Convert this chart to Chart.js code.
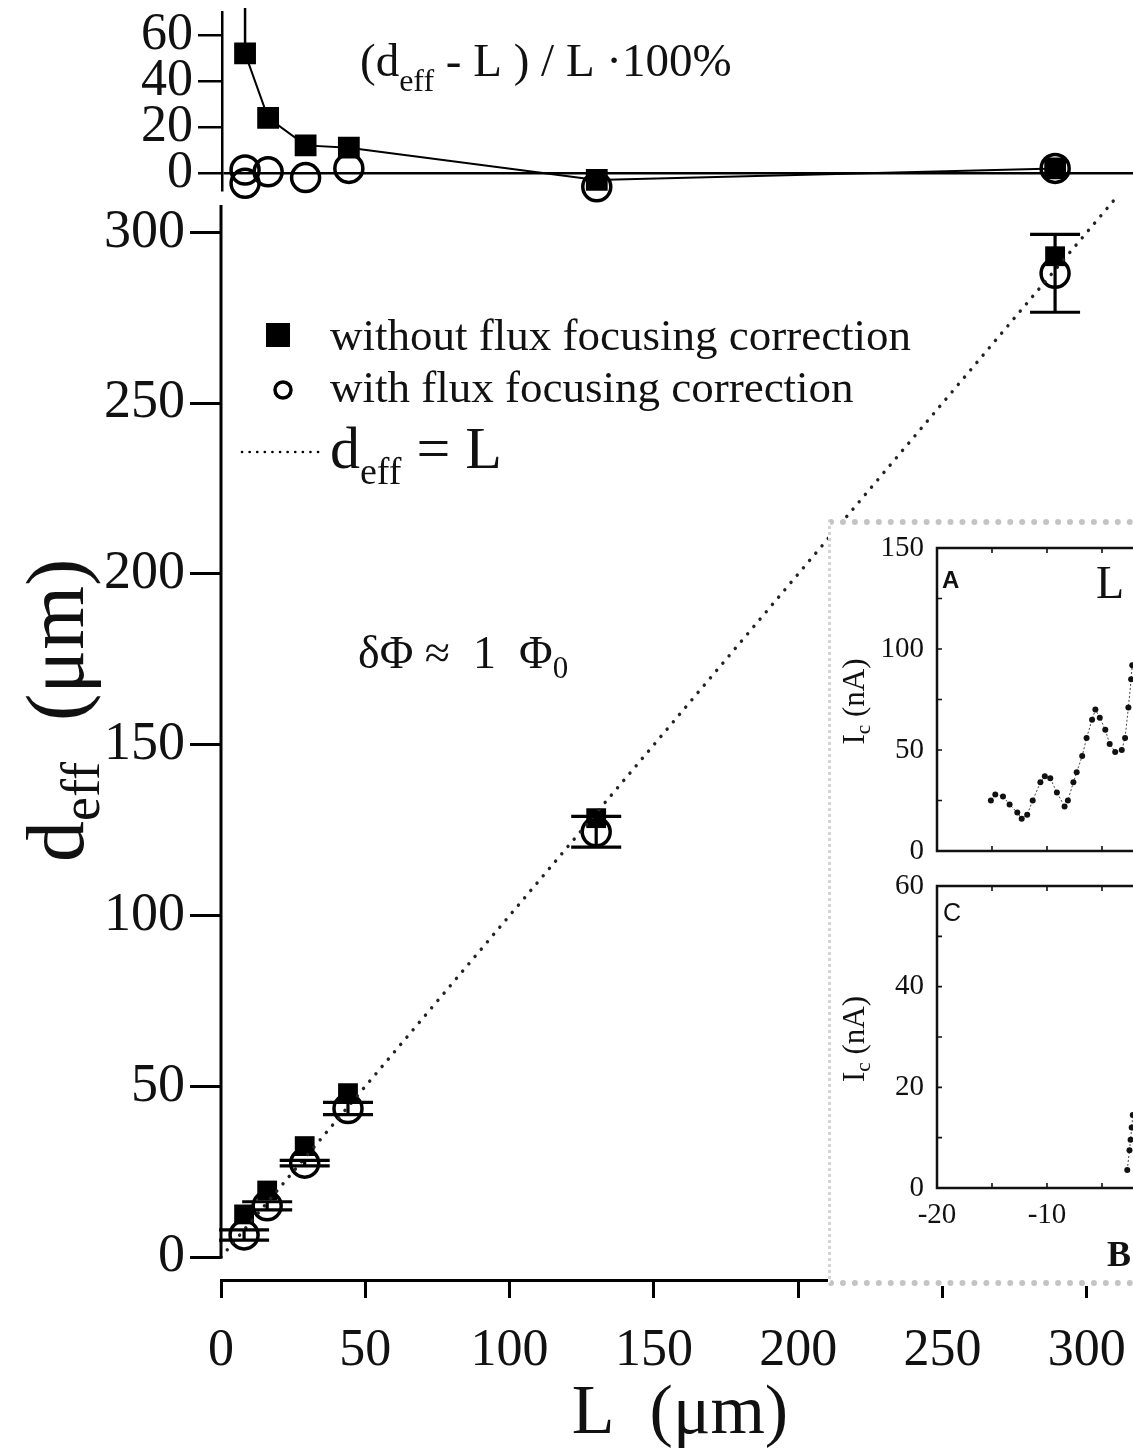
<!DOCTYPE html>
<html>
<head>
<meta charset="utf-8">
<script src="https://cdn.jsdelivr.net/npm/chart.js@4.4.0/dist/chart.umd.min.js"></script>
<style>
  body { margin: 0; background: #fff; width: 1133px; height: 1451px; overflow: hidden; position: relative; }
  canvas { position: absolute; left: 0; top: 0; }
  #insetBg {
    position: absolute; left: 828px; top: 519px; width: 305px; height: 767px;
    background: #fff; box-sizing: border-box;
    border-top: 6px dotted #c4c4c4; border-left: 3px dotted #d4d4d4; border-bottom: 6px dotted #c4c4c4;
  }
</style>
</head>
<body>
<canvas id="main" width="1133" height="1451"></canvas>
<canvas id="pct" width="1133" height="1451"></canvas>
<div id="insetBg"></div>
<canvas id="insetA" width="1133" height="1451"></canvas>
<canvas id="insetC" width="1133" height="1451"></canvas>
<script>
// main panel: d_eff vs L
const L = [8, 16, 29, 44, 130, 289];
const dNoCorr = [12.5, 19.5, 32.5, 48, 128.5, 293];
const dCorr = [6.5, 15, 27.5, 43.5, 124.5, 288];
const dErr = [1.5, 1.2, 0.8, 1.8, 4.5, 11.4];
const lineL = [0, 310];            // d_eff = L
const xTicks = [0, 50, 100, 150, 200, 250, 300];
const yTicks = [0, 50, 100, 150, 200, 250, 300];

// top panel: (d_eff - L) / L * 100%
const pctL = [8, 16, 29, 44, 130, 289];
const pctNoCorr = [52, 24, 12, 11, -3, 2];
const pctNoCorrErrUp = [30, 0, 0, 0, 0, 0];
const pctCorrL = [8, 8, 16, 29, 44, 130, 289];
const pctCorr = [1.3, -4.5, 0.5, -2, 2, -6, 2];
const pctTicks = [0, 20, 40, 60];

// inset A / C: Ic vs field
const fieldA = [-15.1, -14.7, -14.0, -13.4, -12.7, -12.3, -11.8, -11.3, -10.6, -10.2, -9.7, -9.1, -8.4, -8.1,
                -7.6, -7.3, -6.8, -6.4, -5.9, -5.6, -5.2, -4.7, -4.3, -3.8, -3.2, -2.9, -2.6, -2.35, -2.25];
const icA = [25, 28, 27, 23, 19, 16, 18, 25, 34, 37, 36, 29, 22, 25,
             34, 39, 47, 56, 65, 70, 66, 60, 53, 49, 50, 56, 71, 85, 92];
const fieldC = [-2.7, -2.5, -2.4, -2.3, -2.2];
const icC = [3.6, 7.5, 9.6, 12, 14.5];
const insetXTicks = [-20, -10];
const insetXMinor = [-15, -10, -5];
const icATicks = [0, 50, 100, 150];
const icAMinor = [25, 50, 75, 100, 125];
const icCTicks = [0, 20, 40, 60];
const icCMinor = [10, 20, 30, 40, 50];

const serif = '"Liberation Serif", "Times New Roman", serif';
const sans = '"Liberation Sans", Arial, sans-serif';
const ink = '#111';

function pts(xs, ys) { return xs.map((x, i) => ({ x, y: ys[i] })); }
function fixed(list) { return s => { s.ticks = list.map(v => ({ value: v })); }; }

// text with sub-parts: [text, size, dy, family, weight]
function rich(ctx, x, y, parts, align, rot) {
  ctx.save();
  ctx.translate(x, y);
  if (rot) ctx.rotate(rot);
  ctx.fillStyle = ink;
  ctx.textBaseline = 'alphabetic';
  ctx.textAlign = 'left';
  const font = p => `${p[4] || 'normal'} ${p[1]}px ${p[3] || serif}`;
  let w = 0;
  parts.forEach(p => { ctx.font = font(p); w += ctx.measureText(p[0]).width; });
  let cx = align === 'center' ? -w / 2 : 0;
  parts.forEach(p => {
    ctx.font = font(p);
    ctx.fillText(p[0], cx, p[2] || 0);
    cx += ctx.measureText(p[0]).width;
  });
  ctx.restore();
}

const errorBars = {
  id: 'errorBars',
  afterDatasetsDraw(chart) {
    const { ctx, chartArea: a, scales: { x, y } } = chart;
    ctx.save();
    ctx.strokeStyle = '#000';
    chart.data.datasets.forEach(ds => {
      if (!ds.errUp) return;
      ctx.lineWidth = ds.errWidth || 3;
      ds.data.forEach((p, i) => {
        const up = ds.errUp[i], dn = ds.errDown ? ds.errDown[i] : up;
        if (!up && !dn) return;
        const px = x.getPixelForValue(p.x);
        const y1 = Math.max(a.top - 4, y.getPixelForValue(p.y + up));
        const y2 = y.getPixelForValue(p.y - dn);
        const c = ds.capHalf || 0;
        ctx.beginPath();
        ctx.moveTo(px, y1); ctx.lineTo(px, y2);
        if (c) {
          ctx.moveTo(px - c, y1); ctx.lineTo(px + c, y1);
          ctx.moveTo(px - c, y2); ctx.lineTo(px + c, y2);
        }
        ctx.stroke();
      });
    });
    ctx.restore();
  }
};

const mainDecor = {
  id: 'mainDecor',
  afterDraw(chart) {
    const { ctx, chartArea: a, scales: { y } } = chart;
    // y axis line runs only from 0 up
    ctx.save();
    ctx.strokeStyle = '#000';
    ctx.lineWidth = 3;
    ctx.beginPath();
    ctx.moveTo(a.left, y.getPixelForValue(0) + 1.5);
    ctx.lineTo(a.left, a.top);
    ctx.stroke();

    // legend
    const H = Chart.helpers;
    ctx.fillStyle = '#000'; ctx.strokeStyle = '#000';
    H.drawPoint(ctx, { pointStyle: 'rect', radius: 17, borderWidth: 0 }, 278, 335);
    ctx.fillStyle = 'rgba(0,0,0,0)';
    ctx.lineWidth = 3.5;
    H.drawPoint(ctx, { pointStyle: 'circle', radius: 8, borderWidth: 3.5 }, 283, 390);
    ctx.beginPath();
    ctx.setLineDash([0.1, 7.5]);
    ctx.lineCap = 'round';
    ctx.lineWidth = 2.6;
    ctx.moveTo(242, 452); ctx.lineTo(322, 452);
    ctx.stroke();
    ctx.restore();

    rich(ctx, 330, 350, [['without flux focusing correction', 45]]);
    rich(ctx, 330, 402, [['with flux focusing correction', 45]]);
    rich(ctx, 330, 468, [['d', 60], ['eff', 38, 16], [' = L', 60]]);

    rich(ctx, 358, 668, [['δΦ ≈  1  Φ', 46], ['0', 31, 10]]);

    // axis titles
    rich(ctx, 680, 1433, [['L  (μm)', 70]], 'center');
    rich(ctx, 83, 862, [['d', 82], ['eff', 54, 16], ['  (μm)', 82]], 'left', -Math.PI / 2);
  }
};

new Chart(document.getElementById('main'), {
  type: 'scatter',
  data: {
    datasets: [
      {
        label: 'd_eff = L', data: pts(lineL, lineL), showLine: true, pointRadius: 0,
        borderColor: '#222', borderWidth: 3.4, borderDash: [0.1, 9.5], borderCapStyle: 'round', clip: false
      },
      {
        label: 'without flux focusing correction', data: pts(L, dNoCorr),
        pointStyle: 'rect', pointRadius: 14, backgroundColor: '#000', borderColor: '#000', borderWidth: 0, clip: false
      },
      {
        label: 'with flux focusing correction', data: pts(L, dCorr),
        pointStyle: 'circle', pointRadius: 14, backgroundColor: 'rgba(0,0,0,0)', borderColor: '#000', borderWidth: 3.5,
        errUp: dErr, errDown: dErr, capHalf: 25, errWidth: 3.2, clip: false
      }
    ]
  },
  options: {
    responsive: false, animation: false, devicePixelRatio: 1,
    layout: { autoPadding: false, padding: { top: 205, right: 0, bottom: 0, left: 0 } },
    plugins: { legend: { display: false }, tooltip: { enabled: false } },
    scales: {
      x: {
        type: 'linear', min: 0, max: 316,
        afterFit: s => { s.height = 171; s.paddingLeft = 0; s.paddingRight = 0; },
        afterBuildTicks: fixed(xTicks),
        border: { display: true, color: '#000', width: 3 },
        grid: { drawOnChartArea: false, tickLength: 18, tickColor: '#000', tickWidth: 3 },
        ticks: { font: { family: serif, size: 52 }, color: ink, padding: 22, autoSkip: false, maxRotation: 0 }
      },
      y: {
        type: 'linear', min: -6.7, max: 308,
        afterFit: s => { s.width = 221; s.paddingTop = 0; s.paddingBottom = 0; },
        afterBuildTicks: fixed(yTicks),
        border: { display: false },
        grid: { drawOnChartArea: false, tickLength: 31, tickColor: '#000', tickWidth: 3 },
        ticks: { font: { family: serif, size: 54 }, color: ink, padding: 5, autoSkip: false }
      }
    }
  },
  plugins: [errorBars, mainDecor]
});

const pctDecor = {
  id: 'pctDecor',
  afterDraw(chart) {
    rich(chart.ctx, 360, 76, [['(d', 47], ['eff', 32, 15], [' - L ) / L ·100%', 47]]);
  }
};

new Chart(document.getElementById('pct'), {
  type: 'scatter',
  data: {
    datasets: [
      {
        label: 'without', data: pts(pctL, pctNoCorr), showLine: true,
        pointStyle: 'rect', pointRadius: 14, backgroundColor: '#000', borderColor: '#000', borderWidth: 2,
        errUp: pctNoCorrErrUp, errDown: pctNoCorrErrUp.map(() => 0), errWidth: 2.5, clip: false
      },
      {
        label: 'with', data: pts(pctCorrL, pctCorr),
        pointStyle: 'circle', pointRadius: 14, backgroundColor: 'rgba(0,0,0,0)', borderColor: '#000', borderWidth: 3.5, clip: false
      }
    ]
  },
  options: {
    responsive: false, animation: false, devicePixelRatio: 1,
    layout: { autoPadding: false, padding: { top: 12, right: 0, bottom: 1261, left: 0 } },
    plugins: { legend: { display: false }, tooltip: { enabled: false } },
    scales: {
      x: { type: 'linear', min: 0, max: 316, display: false },
      y: {
        type: 'linear', min: -7.4, max: 70,
        afterFit: s => { s.width = 222; s.paddingTop = 0; s.paddingBottom = 0; },
        afterBuildTicks: fixed(pctTicks),
        border: { display: true, color: '#000', width: 2.5 },
        grid: {
          drawOnChartArea: true, tickLength: 24, tickColor: '#000', tickWidth: 2.5, lineWidth: 2.5,
          color: c => (c.tick && c.tick.value === 0 ? '#000' : 'rgba(0,0,0,0)')
        },
        ticks: { font: { family: serif, size: 52 }, color: ink, padding: 5, autoSkip: false }
      }
    }
  },
  plugins: [errorBars, pctDecor]
});

function frame(xMinor, yMinor, texts) {
  return {
    id: 'frame',
    afterDraw(chart) {
      const { ctx, chartArea: a, scales: { x, y } } = chart;
      ctx.save();
      ctx.strokeStyle = '#111';
      ctx.lineWidth = 2.5;
      ctx.beginPath();
      ctx.moveTo(a.right + 2, a.top); ctx.lineTo(a.left, a.top); ctx.lineTo(a.left, a.bottom); ctx.lineTo(a.right + 2, a.bottom);
      ctx.stroke();
      ctx.lineWidth = 1.6;
      ctx.beginPath();
      xMinor.forEach(v => {
        const px = x.getPixelForValue(v);
        ctx.moveTo(px, a.top); ctx.lineTo(px, a.top + 5);
        ctx.moveTo(px, a.bottom); ctx.lineTo(px, a.bottom - 5);
      });
      yMinor.forEach(v => {
        const py = y.getPixelForValue(v);
        ctx.moveTo(a.left, py); ctx.lineTo(a.left + 5, py);
      });
      ctx.stroke();
      ctx.restore();
      texts(ctx, a);
    }
  };
}

function insetChart(id, xs, ys, top, bottom, ymax, yTickList, yMinor, showX, texts) {
  return new Chart(document.getElementById(id), {
    type: 'scatter',
    data: {
      datasets: [{
        data: pts(xs, ys), showLine: true, borderColor: '#444', borderWidth: 1, borderDash: [2, 2],
        pointRadius: 3, pointBackgroundColor: '#111', pointBorderWidth: 0
      }]
    },
    options: {
      responsive: false, animation: false, devicePixelRatio: 1,
      layout: { autoPadding: false, padding: { top: top, right: 0, bottom: 0, left: 0 } },
      plugins: { legend: { display: false }, tooltip: { enabled: false } },
      scales: {
        x: {
          type: 'linear', min: -20, max: -2.18,
          afterFit: s => { s.height = 1451 - bottom; s.paddingLeft = 0; s.paddingRight = 0; },
          afterBuildTicks: fixed(insetXTicks),
          border: { display: false }, grid: { display: false },
          ticks: { display: showX, font: { family: serif, size: 29 }, color: ink, padding: 2, maxRotation: 0, autoSkip: false }
        },
        y: {
          type: 'linear', min: 0, max: ymax,
          afterFit: s => { s.width = 937; s.paddingTop = 0; s.paddingBottom = 0; },
          afterBuildTicks: fixed(yTickList),
          border: { display: false }, grid: { display: false },
          ticks: { font: { family: serif, size: 29 }, color: ink, padding: 5, autoSkip: false }
        }
      }
    },
    plugins: [frame(insetXMinor, yMinor, texts)]
  });
}

insetChart('insetA', fieldA, icA, 548, 851, 150, icATicks, icAMinor, false, (ctx, a) => {
  rich(ctx, 942, 588, [['A', 24, 0, sans, 'bold']]);
  rich(ctx, 1096, 598, [['L', 46]]);
  rich(ctx, 864, (a.top + a.bottom) / 2 + 2, [['I', 31], ['c', 21, 6], [' (nA)', 31]], 'center', -Math.PI / 2);
});

insetChart('insetC', fieldC, icC, 886, 1188, 60, icCTicks, icCMinor, true, (ctx, a) => {
  rich(ctx, 943, 921, [['C', 25, 0, sans]]);
  rich(ctx, 864, (a.top + a.bottom) / 2 + 2, [['I', 31], ['c', 21, 6], [' (nA)', 31]], 'center', -Math.PI / 2);
  rich(ctx, 1107, 1266, [['B', 36, 0, serif, 'bold']]);
});
</script>
</body>
</html>
